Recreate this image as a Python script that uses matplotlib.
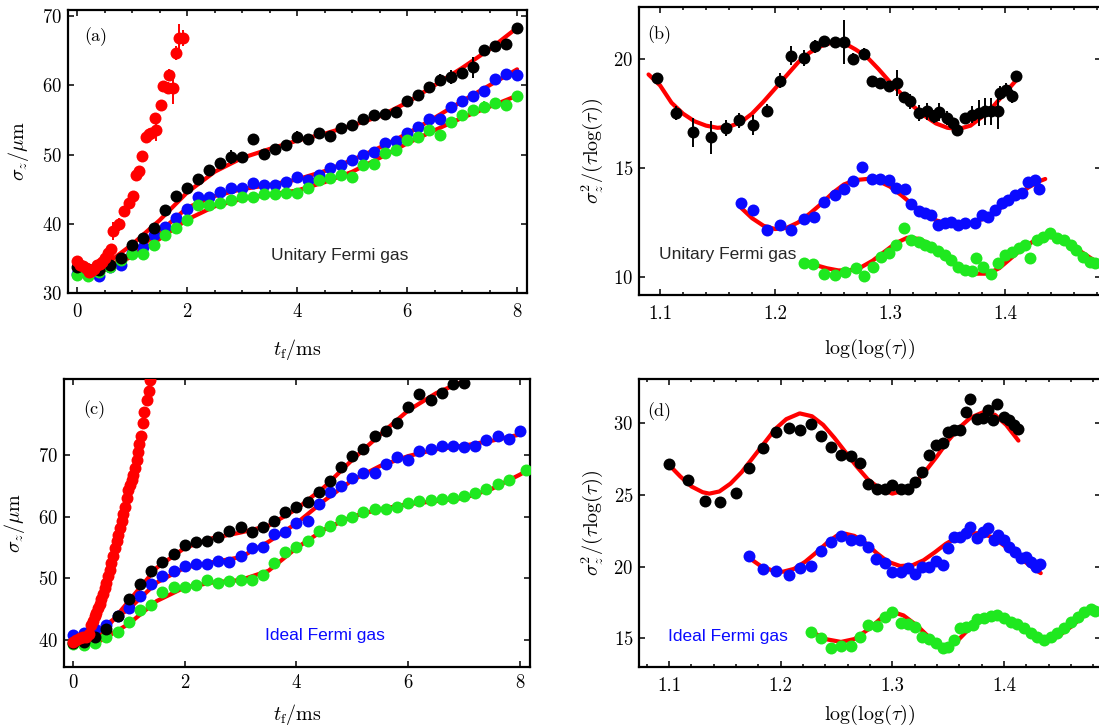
import matplotlib
matplotlib.use("Agg")
import matplotlib.pyplot as plt
from matplotlib.ticker import MultipleLocator

plt.rcParams['font.family'] = 'serif'
plt.rcParams['font.serif'] = ['cmr10', 'DejaVu Serif']
plt.rcParams['mathtext.fontset'] = 'cm'
plt.rcParams['axes.formatter.use_mathtext'] = True

# ---------------- Panel (a): unitary Fermi gas, sigma_z vs t_f ----------------
T_GRID = [0.0, 0.2, 0.4, 0.6, 0.8, 1.0, 1.2, 1.4, 1.6, 1.8, 2.0, 2.2, 2.4, 2.6, 2.8,
          3.0, 3.2, 3.4, 3.6, 3.8, 4.0, 4.2, 4.4, 4.6, 4.8, 5.0, 5.2, 5.4, 5.6, 5.8,
          6.0, 6.2, 6.4, 6.6, 6.8, 7.0, 7.2, 7.4, 7.6, 7.8, 8.0]

a_black = [33.8, 33.4, 33.3, 34.0, 35.0, 36.9, 37.9, 39.4, 42.0, 44.0, 45.1, 46.5, 47.8, 48.8,
           49.7, 49.7, 52.2, 50.1, 50.8, 51.4, 52.6, 52.2, 53.1, 52.7, 53.9, 54.3, 55.2, 55.7,
           55.8, 56.2, 57.8, 58.6, 59.7, 60.8, 61.2, 61.8, 62.6, 65.1, 65.6, 66.0, 68.2]
a_black_err = [0.3, 0.3, 0.3, 0.3, 0.3, 0.3, 0.3, 0.3, 0.3, 0.3, 0.3, 0.3, 0.3, 0.3,
               1.0, 0.3, 0.3, 0.3, 0.3, 0.3, 0.8, 0.6, 0.3, 0.3, 0.6, 0.3, 0.3, 0.3,
               0.3, 0.3, 0.3, 0.3, 0.8, 0.8, 1.0, 0.3, 1.5, 0.3, 0.8, 0.3, 0.3]
a_blue = [32.8, 32.6, 32.5, 33.8, 34.0, 35.8, 36.7, 38.4, 39.6, 40.8, 42.1, 43.9, 43.8, 44.6,
          45.2, 45.1, 45.9, 45.6, 45.6, 46.1, 46.8, 46.3, 47.0, 48.0, 48.5, 49.2, 49.9, 50.3,
          51.7, 52.0, 53.1, 54.0, 55.1, 55.2, 56.9, 57.8, 58.4, 59.2, 60.9, 61.6, 61.5]
a_green = [32.6, 32.5, 33.0, 33.8, 34.8, 35.6, 35.6, 37.0, 38.4, 39.4, 40.5, 42.7, 42.7, 43.0,
           43.4, 43.8, 43.9, 44.3, 44.3, 44.5, 44.5, 45.1, 46.3, 46.6, 47.0, 46.8, 48.5, 48.7,
           50.2, 50.6, 52.1, 52.6, 53.5, 52.8, 54.7, 55.7, 56.4, 56.9, 57.4, 57.1, 58.4]
a_green_err = [0.3, 0.3, 0.3, 0.3, 0.3, 0.3, 0.3, 0.3, 0.3, 0.3, 0.3, 0.3, 0.6, 0.3,
               0.3, 0.3, 0.3, 0.3, 0.3, 0.3, 0.3, 0.3, 0.6, 0.8, 0.6, 0.3, 0.3, 0.6,
               0.3, 0.3, 0.3, 0.3, 0.3, 0.3, 0.3, 0.3, 0.3, 0.8, 0.8, 0.3, 0.6]

a_red_t = [0.0, 0.05, 0.1, 0.16, 0.22, 0.25, 0.3, 0.36, 0.42, 0.45, 0.5, 0.56, 0.62, 0.65,
           0.77, 0.86, 0.95, 1.01, 1.07, 1.13, 1.19, 1.25, 1.3, 1.35, 1.41, 1.44, 1.53, 1.56,
           1.65, 1.68, 1.74, 1.8, 1.86, 1.92]
a_red = [34.6, 34.0, 33.9, 33.6, 33.0, 33.2, 33.4, 34.0, 34.2, 34.5, 35.0, 35.8, 36.3, 39.0,
         39.9, 41.8, 43.0, 44.0, 47.1, 47.6, 49.8, 52.6, 52.9, 53.1, 55.3, 53.6, 57.2, 59.9,
         59.6, 61.5, 59.6, 64.7, 66.8, 66.8]
a_red_err = [0.4, 0.5, 0.4, 0.5, 0.6, 0.5, 0.5, 0.5, 0.6, 0.5, 0.7, 0.8, 0.8, 1.3,
             1.0, 0.8, 0.8, 0.6, 0.6, 0.8, 0.4, 0.5, 0.6, 0.8, 0.6, 1.7, 0.5, 0.6,
             0.8, 0.8, 2.3, 1.0, 2.0, 1.2]

FIT_T = [0.5, 1.0, 1.5, 2.0, 2.5, 3.0, 3.5, 4.0, 4.5, 5.0, 5.5, 6.0, 6.5, 7.0, 7.5, 8.0]
a_fit_black = [34.0, 37.0, 40.5, 44.5, 47.5, 49.5, 50.8, 52.0, 53.0, 54.2, 55.5, 57.5, 60.0, 62.5, 65.2, 68.3]
a_fit_blue = [33.5, 35.8, 38.8, 42.3, 44.0, 45.0, 45.6, 46.4, 47.6, 49.2, 51.0, 53.0, 55.3, 57.7, 60.0, 62.3]
a_fit_green = [33.3, 35.3, 37.8, 40.6, 42.5, 43.6, 44.2, 44.8, 46.0, 47.5, 49.5, 51.6, 53.5, 55.3, 56.9, 58.5]

# ---------------- Panel (b): unitary gas, sigma^2/(tau log tau) vs log(log(tau)) ----------------
b_black_x = [1.097, 1.114, 1.129, 1.144, 1.157, 1.169, 1.181, 1.193, 1.204, 1.214, 1.225, 1.235,
             1.243, 1.252, 1.260, 1.268, 1.277, 1.284, 1.291, 1.299, 1.306, 1.312, 1.317, 1.325,
             1.332, 1.338, 1.343, 1.350, 1.355, 1.358, 1.365, 1.371, 1.377, 1.383, 1.388, 1.394,
             1.396, 1.401, 1.406, 1.410]
b_black = [19.14, 17.53, 16.64, 16.42, 16.84, 17.19, 16.99, 17.64, 19.02, 20.17, 20.06, 20.6,
           20.86, 20.8, 20.8, 20.02, 20.25, 18.99, 18.91, 18.76, 18.91, 18.25, 18.06, 17.53,
           17.6, 17.37, 17.57, 17.3, 17.07, 16.76, 17.3, 17.45, 17.53, 17.6, 17.6, 17.6,
           18.45, 18.6, 18.3, 19.22]
b_black_err = [0.2, 0.3, 0.65, 0.75, 0.35, 0.35, 0.45, 0.3, 0.35, 0.45, 0.35, 0.3,
               0.15, 0.15, 1.0, 0.25, 0.25, 0.25, 0.25, 0.2, 0.6, 0.2, 0.35, 0.35,
               0.4, 0.3, 0.4, 0.3, 0.2, 0.2, 0.2, 0.4, 0.6, 0.6, 0.6, 0.8,
               0.3, 0.3, 0.3, 0.2]
b_fit_black_x = [1.09, 1.10, 1.11, 1.12, 1.13, 1.14, 1.15, 1.16, 1.17, 1.18, 1.19, 1.20, 1.21,
                 1.22, 1.23, 1.24, 1.25, 1.26, 1.27, 1.28, 1.29, 1.30, 1.31, 1.32, 1.33, 1.34,
                 1.35, 1.36, 1.37, 1.38, 1.39, 1.40, 1.41]
b_fit_black = [19.3, 18.8, 18.0, 17.5, 17.15, 16.95, 16.85, 16.9, 17.1, 17.5, 18.05, 18.65, 19.25,
               19.85, 20.3, 20.6, 20.78, 20.75, 20.45, 20.1, 19.55, 18.95, 18.4, 17.85, 17.4, 17.05,
               16.85, 16.8, 16.95, 17.35, 17.85, 18.45, 19.05]

b_blue_x = [1.170, 1.181, 1.193, 1.204, 1.214, 1.225, 1.234, 1.243, 1.252, 1.260, 1.268, 1.276,
            1.284, 1.291, 1.299, 1.305, 1.313, 1.318, 1.325, 1.330, 1.336, 1.342, 1.348, 1.353,
            1.359, 1.365, 1.374, 1.380, 1.385, 1.391, 1.397, 1.403, 1.409, 1.415, 1.420, 1.426,
            1.430]
b_blue = [13.38, 13.07, 12.15, 12.38, 12.15, 12.65, 12.77, 13.43, 13.77, 14.03, 14.41, 15.04,
          14.49, 14.49, 14.46, 14.07, 14.03, 13.35, 13.04, 12.92, 12.84, 12.38, 12.46, 12.53,
          12.38, 12.46, 12.49, 12.84, 12.77, 13.07, 13.38, 13.53, 13.77, 13.84, 14.38, 14.46,
          14.03]
b_fit_blue_x = [1.17, 1.18, 1.19, 1.20, 1.21, 1.22, 1.23, 1.24, 1.25, 1.26, 1.27, 1.28, 1.29,
                1.30, 1.31, 1.32, 1.33, 1.34, 1.35, 1.36, 1.37, 1.38, 1.39, 1.40, 1.41, 1.42,
                1.43, 1.435]
b_fit_blue = [13.2, 12.7, 12.35, 12.2, 12.25, 12.5, 12.9, 13.35, 13.85, 14.25, 14.45, 14.5, 14.4,
              14.15, 13.75, 13.3, 12.9, 12.6, 12.45, 12.4, 12.45, 12.65, 12.95, 13.3, 13.7, 14.1,
              14.4, 14.5]

b_green_x = [1.225, 1.233, 1.243, 1.252, 1.261, 1.270, 1.277, 1.285, 1.292, 1.299, 1.305, 1.312,
             1.318, 1.325, 1.330, 1.336, 1.342, 1.348, 1.353, 1.359, 1.365, 1.371, 1.375, 1.381,
             1.388, 1.394, 1.400, 1.406, 1.412, 1.417, 1.422, 1.428, 1.433, 1.439, 1.445, 1.451,
             1.457, 1.462, 1.468, 1.474, 1.478]
b_green = [10.62, 10.6, 10.15, 10.1, 10.23, 10.39, 10.03, 10.46, 10.92, 11.08, 11.46, 12.23,
           11.69, 11.61, 11.46, 11.38, 11.2, 11.0, 10.77, 10.46, 10.31, 10.27, 10.85, 10.46,
           10.15, 10.62, 11.0, 11.15, 11.31, 11.46, 10.85, 11.69, 11.84, 12.0, 11.77, 11.69,
           11.46, 11.23, 10.92, 10.69, 10.62]
b_fit_green_x = [1.225, 1.235, 1.245, 1.255, 1.265, 1.275, 1.285, 1.295, 1.305, 1.315, 1.325,
                 1.335, 1.345, 1.355, 1.365, 1.375, 1.385, 1.395, 1.405, 1.415, 1.425, 1.435,
                 1.445, 1.455, 1.465, 1.475, 1.48]
b_fit_green = [10.75, 10.55, 10.4, 10.3, 10.3, 10.45, 10.75, 11.15, 11.55, 11.8, 11.75,
               11.5, 11.1, 10.7, 10.35, 10.15, 10.15, 10.4, 10.85, 11.3, 11.65, 11.85,
               11.8, 11.55, 11.2, 10.85, 10.7]

# ---------------- Panel (c): ideal Fermi gas, sigma_z vs t_f ----------------
c_black = [39.5, 39.6, 40.5, 41.8, 43.8, 46.6, 49.0, 51.1, 52.6, 53.9, 55.4, 55.8, 56.1, 56.6,
           57.7, 58.3, 57.5, 58.3, 59.3, 60.7, 61.5, 62.3, 64.0, 65.7, 68.1, 69.8, 71.0, 73.0,
           73.9, 75.1, 77.7, 79.8, 78.9, 80.0, 81.5, 81.7]
c_blue = [40.8, 41.1, 41.7, 42.4, 43.9, 45.1, 47.1, 49.0, 50.4, 51.2, 52.0, 52.3, 52.3, 52.8,
          52.7, 53.6, 54.9, 55.0, 57.2, 57.5, 58.9, 59.3, 62.0, 63.9, 64.9, 66.2, 67.0, 67.0,
          68.5, 69.7, 69.1, 70.6, 70.9, 71.4, 71.4, 71.2, 71.4, 72.4, 73.0, 72.6, 73.9]
c_green_t = [0.0, 0.2, 0.4, 0.6, 0.8, 1.0, 1.2, 1.4, 1.6, 1.8, 2.0, 2.2, 2.4, 2.6, 2.8,
             3.0, 3.2, 3.4, 3.6, 3.8, 4.0, 4.2, 4.4, 4.6, 4.8, 5.0, 5.2, 5.4, 5.6, 5.8,
             6.0, 6.2, 6.4, 6.6, 6.8, 7.0, 7.2, 7.4, 7.6, 7.8, 8.1]
c_green = [39.4, 39.2, 39.5, 40.5, 41.2, 42.9, 44.9, 45.7, 47.8, 48.6, 48.5, 48.9, 49.7, 49.3,
           49.6, 49.7, 49.7, 50.5, 52.4, 54.3, 55.1, 56.1, 57.6, 58.5, 59.5, 60.0, 60.8, 61.2,
           61.2, 61.6, 62.2, 62.5, 62.7, 62.9, 63.0, 63.4, 63.8, 64.5, 65.3, 66.0, 67.5]
c_red_t = [0.0, 0.06, 0.12, 0.18, 0.24, 0.28, 0.33, 0.36, 0.39, 0.42, 0.45, 0.48, 0.51, 0.54,
           0.57, 0.6, 0.63, 0.66, 0.69, 0.72, 0.75, 0.78, 0.81, 0.84, 0.87, 0.9, 0.93, 0.96,
           0.99, 1.02, 1.05, 1.08, 1.11, 1.14, 1.16, 1.19, 1.22, 1.25, 1.28, 1.32, 1.36, 1.38]
c_red = [39.7, 39.9, 40.3, 40.4, 40.5, 41.0, 42.4, 43.0, 43.8, 44.4, 45.1, 45.8, 46.6, 47.5,
         48.4, 49.3, 50.3, 51.3, 52.4, 53.6, 54.9, 56.0, 57.0, 58.1, 59.2, 60.4, 61.6, 63.0,
         64.3, 65.1, 65.9, 66.8, 67.8, 69.2, 70.5, 71.8, 73.0, 75.1, 77.0, 78.9, 80.4, 82.2]
c_fit_black_t = [0.5, 1.0, 1.5, 2.0, 2.5, 3.0, 3.5, 4.0, 4.5, 5.0, 5.5, 6.0, 6.5, 7.0, 7.3]
c_fit_black = [40.8, 46.3, 51.7, 54.9, 56.5, 57.4, 58.5, 61.2, 64.8, 69.2, 73.3, 77.2, 80.0, 82.0, 84.0]
c_fit_blue = [41.9, 45.0, 49.3, 51.7, 52.6, 53.4, 55.9, 58.9, 62.6, 65.9, 68.2, 69.8, 70.9, 71.5, 72.3, 73.3]
c_fit_green_t = [0.5, 1.0, 1.5, 2.0, 2.5, 3.0, 3.5, 4.0, 4.5, 5.0, 5.5, 6.0, 6.5, 7.0, 7.5, 8.0, 8.2]
c_fit_green = [39.9, 42.6, 46.3, 48.5, 49.3, 49.7, 51.2, 54.9, 57.9, 60.0, 61.2, 62.0, 62.5, 63.0, 64.5, 66.8, 67.8]

# ---------------- Panel (d): ideal gas, sigma^2/(tau log tau) vs log(log(tau)) ----------------
d_black_x = [1.100, 1.117, 1.132, 1.146, 1.160, 1.172, 1.184, 1.196, 1.207, 1.217, 1.227, 1.236,
             1.245, 1.254, 1.263, 1.271, 1.278, 1.286, 1.293, 1.300, 1.308, 1.314, 1.320, 1.327,
             1.333, 1.339, 1.345, 1.350, 1.355, 1.361, 1.366, 1.370, 1.376, 1.381, 1.386, 1.390,
             1.394, 1.400, 1.405, 1.409, 1.413]
d_black = [27.16, 26.05, 24.58, 24.53, 25.16, 26.9, 28.26, 29.42, 29.65, 29.53, 29.95, 29.12,
           28.33, 27.79, 27.72, 27.21, 25.77, 25.42, 25.45, 25.7, 25.45, 25.45, 25.93, 26.63,
           27.79, 28.49, 28.6, 29.42, 29.53, 29.53, 30.81, 31.67, 30.28, 30.4, 30.93, 30.23,
           31.33, 30.46, 30.23, 29.88, 29.58]
d_fit_black_x = [1.100, 1.110, 1.120, 1.130, 1.136, 1.145, 1.155, 1.165, 1.175, 1.185, 1.195,
                 1.205, 1.217, 1.228, 1.238, 1.248, 1.258, 1.268, 1.278, 1.288, 1.300, 1.310,
                 1.320, 1.330, 1.340, 1.350, 1.360, 1.370, 1.382, 1.392, 1.402, 1.413]
d_fit_black = [27.1, 26.3, 25.6, 25.2, 25.1, 25.25, 25.8, 26.6, 27.6, 28.6, 29.6, 30.3, 30.7,
               30.5, 29.9, 29.0, 28.0, 27.0, 26.1, 25.5, 25.1, 25.3, 25.8, 26.7, 27.7, 28.8,
               29.7, 30.4, 30.8, 30.6, 29.9, 28.8]

d_blue_x = [1.172, 1.184, 1.196, 1.207, 1.217, 1.227, 1.236, 1.245, 1.254, 1.263, 1.271, 1.278,
            1.285, 1.293, 1.300, 1.308, 1.314, 1.320, 1.327, 1.333, 1.339, 1.345, 1.350, 1.355,
            1.361, 1.366, 1.370, 1.376, 1.381, 1.386, 1.391, 1.395, 1.400, 1.405, 1.410, 1.415,
            1.420, 1.424, 1.429, 1.432]
d_blue = [20.77, 19.81, 19.7, 19.42, 19.88, 20.07, 21.11, 21.74, 22.14, 21.86, 21.86, 21.39,
          20.53, 20.23, 19.65, 19.65, 19.88, 19.49, 20.0, 19.98, 20.41, 20.12, 21.28, 22.05,
          22.1, 22.33, 22.79, 21.98, 22.44, 22.68, 21.86, 22.21, 21.86, 21.39, 21.04, 20.58,
          20.65, 20.35, 20.0, 20.2]
d_fit_blue_x = [1.172, 1.182, 1.192, 1.202, 1.212, 1.222, 1.232, 1.242, 1.250, 1.258, 1.266,
                1.276, 1.286, 1.296, 1.307, 1.318, 1.328, 1.338, 1.348, 1.358, 1.368, 1.378,
                1.388, 1.398, 1.408, 1.418, 1.428, 1.433]
d_fit_blue = [20.6, 20.05, 19.75, 19.65, 19.85, 20.35, 21.0, 21.7, 22.15, 22.3, 22.15, 21.65,
              20.95, 20.35, 20.05, 20.1, 20.45, 21.0, 21.6, 22.05, 22.3, 22.35, 22.1, 21.6,
              21.0, 20.4, 19.8, 19.55]

d_green_x = [1.227, 1.236, 1.245, 1.254, 1.263, 1.271, 1.278, 1.286, 1.293, 1.300, 1.308, 1.314,
             1.320, 1.327, 1.333, 1.339, 1.345, 1.350, 1.355, 1.361, 1.366, 1.372, 1.376, 1.382,
             1.388, 1.394, 1.400, 1.406, 1.412, 1.418, 1.424, 1.430, 1.436, 1.442, 1.448, 1.454,
             1.460, 1.466, 1.472, 1.478, 1.482]
d_green = [15.47, 15.0, 14.3, 14.46, 14.46, 15.12, 15.93, 15.86, 16.51, 16.86, 16.05, 15.98,
           15.81, 15.12, 14.93, 14.65, 14.3, 14.42, 14.88, 15.74, 15.81, 15.93, 16.33, 16.44,
           16.56, 16.63, 16.4, 16.16, 16.0, 15.7, 15.35, 15.12, 14.88, 15.12, 15.35, 15.7,
           16.16, 16.51, 16.86, 17.02, 16.9]
d_fit_green_x = [1.228, 1.240, 1.254, 1.266, 1.278, 1.290, 1.300, 1.310, 1.322, 1.334, 1.346,
                 1.358, 1.368, 1.378, 1.390, 1.402, 1.414, 1.426, 1.437, 1.448, 1.460, 1.472,
                 1.482]
d_fit_green = [15.45, 14.95, 14.75, 14.95, 15.6, 16.4, 16.85, 16.6, 15.9, 15.0, 14.45, 14.8,
               15.6, 16.3, 16.75, 16.5, 15.9, 15.2, 14.8, 15.1, 15.8, 16.6, 17.0]

# ---------------- styling ----------------
BLACK = '#000000'
BLUE = '#0a0aff'
GREEN = '#1fe81f'
RED = '#ff0000'
MS = 8.6
FIT_LW = 3.0
TICK_FS = 13.5
LABEL_FS = 14.5

fig = plt.figure(figsize=(10.99, 7.28), dpi=100)
W, H = 1099.0, 728.0
axA = fig.add_axes([68 / W, 1 - 293 / H, 459 / W, 283 / H])
axB = fig.add_axes([639 / W, 1 - 295 / H, 462 / W, 288 / H])
axC = fig.add_axes([64 / W, 1 - 667 / H, 466 / W, 288 / H])
axD = fig.add_axes([639 / W, 1 - 667 / H, 462 / W, 288 / H])


def style(ax):
    for sp in ax.spines.values():
        sp.set_linewidth(1.6)
    ax.tick_params(which='both', direction='in', top=True, right=True, width=1.1,
                   labelsize=TICK_FS)
    ax.tick_params(which='major', length=4)
    ax.tick_params(which='minor', length=2.2)
    ax.tick_params(axis='x', pad=7)
    ax.tick_params(axis='y', pad=4)


def dots(ax, x, y, color, yerr=None, z=3):
    if yerr is None:
        ax.plot(x, y, 'o', color=color, ms=MS, mew=0, zorder=z)
    else:
        ax.errorbar(x, y, yerr=yerr, fmt='o', color=color, ms=MS, mew=0,
                    ecolor=color, elinewidth=1.4, capsize=2.2, capthick=1.4, zorder=z)


def fit(ax, x, y):
    ax.plot(x, y, '-', color=RED, lw=FIT_LW, zorder=2, solid_capstyle='round')


# ---- (a)
fit(axA, FIT_T, a_fit_black)
fit(axA, FIT_T, a_fit_blue)
fit(axA, FIT_T, a_fit_green)
dots(axA, T_GRID, a_blue, BLUE)
dots(axA, T_GRID, a_green, GREEN, a_green_err)
dots(axA, T_GRID, a_black, BLACK, a_black_err)
dots(axA, a_red_t, a_red, RED, a_red_err, z=4)
axA.set_xlim(-0.164, 8.18)
axA.set_ylim(30, 70.87)
axA.xaxis.set_major_locator(MultipleLocator(2))
axA.xaxis.set_minor_locator(MultipleLocator(0.5))
axA.set_yticks([30, 40, 50, 60, 70])
style(axA)
axA.set_xlabel(r'$t_{\mathrm{f}}/\mathrm{ms}$', fontsize=LABEL_FS, labelpad=12)
axA.set_ylabel(r'$\sigma_z/\mathrm{\mu m}$', fontsize=LABEL_FS, labelpad=8)
axA.text(0.035, 0.905, '(a)', transform=axA.transAxes, fontsize=13, va='center', ha='left')
axA.text(0.593, 0.134, 'Unitary Fermi gas', transform=axA.transAxes, fontsize=12.5,
         family='Liberation Sans', color='#262626', va='center', ha='center')

# ---- (b)
fit(axB, b_fit_black_x, b_fit_black)
fit(axB, b_fit_blue_x, b_fit_blue)
fit(axB, b_fit_green_x, b_fit_green)
dots(axB, b_black_x, b_black, BLACK, b_black_err)
dots(axB, b_blue_x, b_blue, BLUE)
dots(axB, b_green_x, b_green, GREEN, [0.2] * len(b_green))
axB.set_xlim(1.0817, 1.4835)
axB.set_ylim(9.17, 22.4)
axB.xaxis.set_minor_locator(MultipleLocator(0.02))
axB.set_yticks([10, 15, 20])
style(axB)
axB.set_xticks([1.1, 1.2, 1.3, 1.4])
axB.set_xticklabels(['1.1', '1.2', '1.3', '1.4'])
axB.set_xlabel(r'$\log(\log(\tau))$', fontsize=LABEL_FS, labelpad=10)
axB.set_ylabel(r'$\sigma_z^2/(\tau\log(\tau))$', fontsize=LABEL_FS, labelpad=6)
axB.text(0.017, 0.903, '(b)', transform=axB.transAxes, fontsize=13, va='center', ha='left')
axB.text(0.192, 0.139, 'Unitary Fermi gas', transform=axB.transAxes, fontsize=12.5,
         family='Liberation Sans', color='#262626', va='center', ha='center', zorder=5)

# ---- (c)
fit(axC, c_fit_black_t, c_fit_black)
fit(axC, FIT_T, c_fit_blue)
fit(axC, c_fit_green_t, c_fit_green)
dots(axC, T_GRID, c_blue, BLUE)
dots(axC, c_green_t, c_green, GREEN)
dots(axC, T_GRID[:len(c_black)], c_black, BLACK)
dots(axC, c_red_t, c_red, RED, z=4)
axC.set_xlim(-0.16, 8.18)
axC.set_ylim(35.6, 82.3)
axC.xaxis.set_major_locator(MultipleLocator(2))
axC.set_yticks([40, 50, 60, 70])
style(axC)
axC.tick_params(axis='x', pad=5)
axC.set_xlabel(r'$t_{\mathrm{f}}/\mathrm{ms}$', fontsize=LABEL_FS, labelpad=7)
axC.set_ylabel(r'$\sigma_z/\mathrm{\mu m}$', fontsize=LABEL_FS, labelpad=8)
axC.text(0.041, 0.892, '(c)', transform=axC.transAxes, fontsize=13, va='center', ha='left')
axC.text(0.56, 0.111, 'Ideal Fermi gas', transform=axC.transAxes, fontsize=12.5,
         family='Liberation Sans', color=BLUE, va='center', ha='center')

# ---- (d)
fit(axD, d_fit_black_x, d_fit_black)
fit(axD, d_fit_blue_x, d_fit_blue)
fit(axD, d_fit_green_x, d_fit_green)
dots(axD, d_black_x, d_black, BLACK)
dots(axD, d_blue_x, d_blue, BLUE)
dots(axD, d_green_x, d_green, GREEN)
axD.set_xlim(1.073, 1.487)
axD.set_ylim(13.0, 33.1)
axD.xaxis.set_minor_locator(MultipleLocator(0.02))
axD.set_yticks([15, 20, 25, 30])
style(axD)
axD.set_xticks([1.1, 1.2, 1.3, 1.4])
axD.set_xticklabels(['1.1', '1.2', '1.3', '1.4'])
axD.set_xlabel(r'$\log(\log(\tau))$', fontsize=LABEL_FS, labelpad=6)
axD.set_ylabel(r'$\sigma_z^2/(\tau\log(\tau))$', fontsize=LABEL_FS, labelpad=6)
axD.text(0.017, 0.886, '(d)', transform=axD.transAxes, fontsize=13, va='center', ha='left')
axD.text(0.193, 0.105, 'Ideal Fermi gas', transform=axD.transAxes, fontsize=12.5,
         family='Liberation Sans', color=BLUE, va='center', ha='center')

fig.savefig('out.png', dpi=100)
